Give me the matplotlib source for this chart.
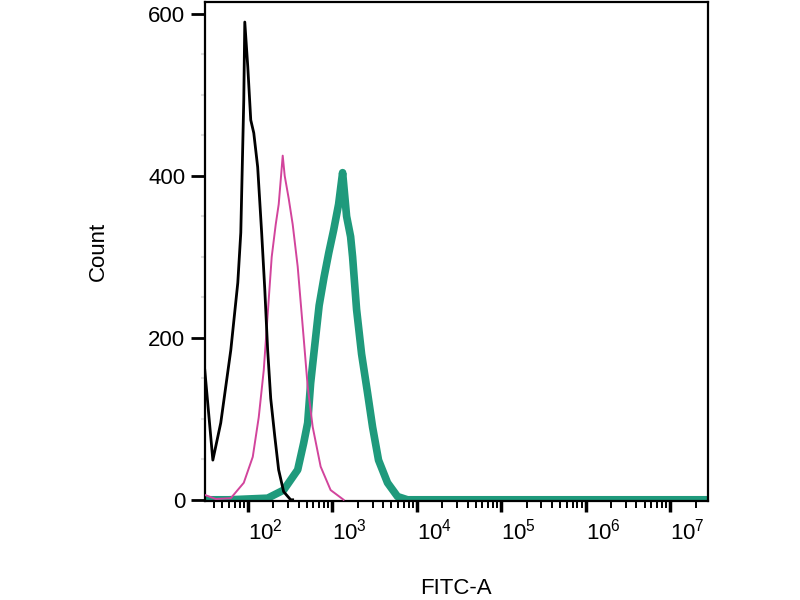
import numpy as np
import matplotlib
matplotlib.use('Agg')
import matplotlib.pyplot as plt
from matplotlib.ticker import FixedLocator, LogLocator, NullFormatter

plt.rcParams['font.family'] = ['Liberation Sans', 'DejaVu Sans']
plt.rcParams['mathtext.fontset'] = 'custom'
plt.rcParams['mathtext.rm'] = 'Liberation Sans'
plt.rcParams['mathtext.default'] = 'regular'

# histogram traces (FITC-A intensity, count)
black_x = [31, 38.6, 47.9, 63, 76.2, 82.7, 89.7, 92.2, 100, 108.5, 117.8, 131,
           146, 159, 172, 187, 209, 232, 266, 322, 340]
black_y = [160, 49, 95, 185, 268, 330, 494, 590, 535, 469, 453, 411,
           330, 260, 185, 125, 78, 37, 10, 0, 0]

pink_x = [31, 41.9, 63, 89.7, 114.6, 134.9, 154.6, 172.4, 192.1, 214.3, 232.5,
          245.6, 259.3, 273.8, 305.3, 340.4, 390, 459, 512, 587, 729, 957, 1364]
pink_y = [6, 1, 2, 21, 53, 102, 160, 230, 300, 340, 365,
          395, 425, 400, 372, 340, 288, 200, 140, 90, 41, 12, 0]

green_x = [31, 60, 172, 266, 390, 459, 512, 555, 620, 700, 800, 910, 1039, 1190,
           1327, 1480, 1650, 1742, 1942, 2226, 2618, 3002, 3532, 4515, 5929,
           7785, 2.9e7]
green_y = [0, 0, 2, 12, 37, 70, 95, 144, 190, 240, 275, 305, 333, 365,
           404, 350, 325, 300, 235, 180, 132, 90, 49, 21, 4,
           0, 0]

decades = [2, 3, 4, 5, 6, 7]
count_ticks = [0, 200, 400, 600]

fig = plt.figure(figsize=(8, 6), dpi=100)
ax = fig.add_axes([0.256, 0.165, 0.629, 0.832])

ax.plot(green_x, green_y, color='#1f9a7c', lw=5.5, solid_capstyle='butt', zorder=2)
ax.plot(pink_x, pink_y, color='#d2449c', lw=1.4, zorder=3)
ax.plot(black_x, black_y, color='black', lw=2.0, zorder=4)

ax.set_xscale('log')
ax.set_xlim(31, 2.81e7)
ax.set_ylim(-1.5, 615)

ax.set_xticks([10.0 ** k for k in decades])
ax.set_xticklabels(['$10^{%d}$' % k for k in decades])
ax.xaxis.set_minor_locator(LogLocator(base=10, subs=np.arange(2, 10)))
ax.xaxis.set_minor_formatter(NullFormatter())
plt.setp(ax.get_xticklabels(), ha='left')

ax.set_yticks(count_ticks)
ax.yaxis.set_minor_locator(FixedLocator(np.arange(50, 600, 50)))

ax.tick_params(axis='x', which='major', direction='out', length=8, width=2.5,
               labelsize=16, pad=5)
ax.tick_params(axis='x', which='minor', direction='out', length=5, width=1.4)
ax.tick_params(axis='y', which='major', direction='out', length=10, width=2,
               labelsize=16, pad=4)
ax.tick_params(axis='y', which='minor', direction='out', length=3, width=1.5,
               color='#e0e0e0')

for s in ax.spines.values():
    s.set_linewidth(1.6)

ax.set_xlabel('FITC-A', fontsize=16)
ax.set_ylabel('Count', fontsize=16)
ax.xaxis.set_label_coords(0.5, -0.155)
ax.yaxis.set_label_coords(-0.19, 0.5)

fig.savefig('out.png', dpi=100)
